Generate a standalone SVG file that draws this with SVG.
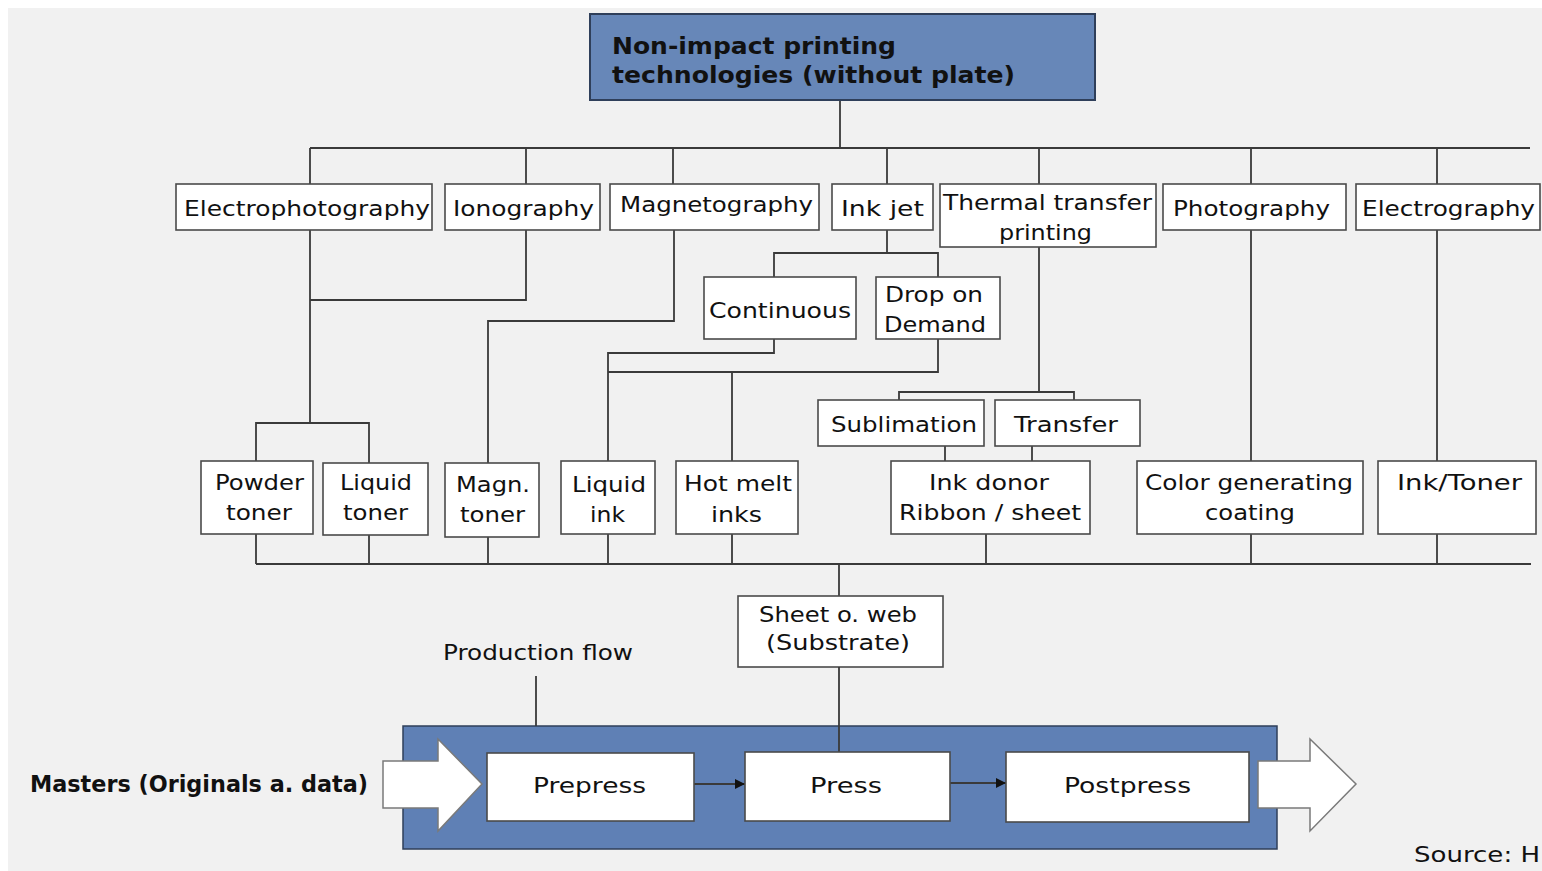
<svg xmlns="http://www.w3.org/2000/svg" width="1542" height="871" viewBox="0 0 1542 871">
<defs>
<style>
.bx{fill:#ffffff;stroke:#4a4a4a;stroke-width:1.6}
.t{font-family:"DejaVu Sans",sans-serif;font-size:21px;fill:#111}
.tb{font-family:"DejaVu Sans",sans-serif;font-size:23px;font-weight:bold;fill:#111}
.ln{fill:none;stroke:#3a3a3a;stroke-width:1.8}
.big{fill:#ffffff;stroke:#7a7a7a;stroke-width:1.5}
</style>
<marker id="ah" viewBox="0 0 10 10" refX="10" refY="5" markerWidth="10" markerHeight="10" markerUnits="userSpaceOnUse" orient="auto">
<path d="M0,0 L10,5 L0,10 Z" fill="#111"/>
</marker>
</defs>
<rect x="0" y="0" width="1542" height="871" fill="#ffffff"/>
<rect x="8" y="8" width="1534" height="863" fill="#f1f1f1"/>

<g id="connectors">
<path class="ln" d="M840,100 V148 M310,148 H1530 M310,148 V184 M526,148 V184 M673,148 V184 M887,148 V184 M1039,148 V184 M1251,148 V184 M1437,148 V184"/>
<path class="ln" d="M310,230 V423 M526,230 V300 H310 M256,461 V423 H369 V463"/>
<path class="ln" d="M674,230 V321 H488 V463"/>
<path class="ln" d="M887,230 V253 M774,277 V253 H938 V277"/>
<path class="ln" d="M774,339 V353 H608 V461 M938,339 V372 H608 M732,372 V461"/>
<path class="ln" d="M1039,247 V392 M899,400 V392 H1074 V400 M945,446 V461 M1032,446 V461"/>
<path class="ln" d="M1251,230 V461 M1437,230 V461"/>
<path class="ln" d="M256,564 H1531 M256,534 V564 M369,535 V564 M488,537 V564 M608,534 V564 M732,534 V564 M986,534 V564 M1251,534 V564 M1437,534 V564"/>
<path class="ln" d="M839,564 V596"/>
</g>

<g id="top">
<rect x="590" y="14" width="505" height="86" fill="#6787b8" stroke="#2f3f5a" stroke-width="2"/>
<text class="tb" x="612" y="54" textLength="284" lengthAdjust="spacingAndGlyphs">Non-impact printing</text>
<text class="tb" x="612" y="83" textLength="403" lengthAdjust="spacingAndGlyphs">technologies (without plate)</text>
</g>

<g id="electrophotography"><rect class="bx" x="176" y="184" width="256" height="46"/><text class="t" x="184" y="216" textLength="246" lengthAdjust="spacingAndGlyphs">Electrophotography</text></g>
<g id="ionography"><rect class="bx" x="445" y="184" width="155" height="46"/><text class="t" x="453" y="216" textLength="141" lengthAdjust="spacingAndGlyphs">Ionography</text></g>
<g id="magnetography"><rect class="bx" x="610" y="184" width="209" height="46"/><text class="t" x="620" y="212" textLength="193" lengthAdjust="spacingAndGlyphs">Magnetography</text></g>
<g id="inkjet"><rect class="bx" x="832" y="184" width="101" height="46"/><text class="t" x="841" y="216" textLength="83" lengthAdjust="spacingAndGlyphs">Ink jet</text></g>
<g id="thermal"><rect class="bx" x="940" y="184" width="216" height="63"/><text class="t" x="943" y="210" textLength="209" lengthAdjust="spacingAndGlyphs">Thermal transfer</text><text class="t" x="999" y="240" textLength="93" lengthAdjust="spacingAndGlyphs">printing</text></g>
<g id="photography"><rect class="bx" x="1163" y="184" width="183" height="46"/><text class="t" x="1173" y="216" textLength="157" lengthAdjust="spacingAndGlyphs">Photography</text></g>
<g id="electrography"><rect class="bx" x="1356" y="184" width="184" height="46"/><text class="t" x="1362" y="216" textLength="173" lengthAdjust="spacingAndGlyphs">Electrography</text></g>

<g id="continuous"><rect class="bx" x="704" y="277" width="152" height="62"/><text class="t" x="709" y="318" textLength="142" lengthAdjust="spacingAndGlyphs">Continuous</text></g>
<g id="dod"><rect class="bx" x="876" y="277" width="124" height="62"/><text class="t" x="885" y="302" textLength="98" lengthAdjust="spacingAndGlyphs">Drop on</text><text class="t" x="884" y="332" textLength="102" lengthAdjust="spacingAndGlyphs">Demand</text></g>
<g id="sublimation"><rect class="bx" x="818" y="400" width="166" height="46"/><text class="t" x="831" y="432" textLength="146" lengthAdjust="spacingAndGlyphs">Sublimation</text></g>
<g id="transfer"><rect class="bx" x="995" y="400" width="145" height="46"/><text class="t" x="1014" y="432" textLength="104" lengthAdjust="spacingAndGlyphs">Transfer</text></g>

<g id="powder"><rect class="bx" x="201" y="461" width="112" height="73"/><text class="t" x="215" y="490" textLength="89" lengthAdjust="spacingAndGlyphs">Powder</text><text class="t" x="226" y="520" textLength="66" lengthAdjust="spacingAndGlyphs">toner</text></g>
<g id="liquidtoner"><rect class="bx" x="323" y="463" width="105" height="72"/><text class="t" x="340" y="490" textLength="72" lengthAdjust="spacingAndGlyphs">Liquid</text><text class="t" x="343" y="520" textLength="65" lengthAdjust="spacingAndGlyphs">toner</text></g>
<g id="magntoner"><rect class="bx" x="445" y="463" width="94" height="74"/><text class="t" x="456" y="492" textLength="74" lengthAdjust="spacingAndGlyphs">Magn.</text><text class="t" x="460" y="522" textLength="65" lengthAdjust="spacingAndGlyphs">toner</text></g>
<g id="liquidink"><rect class="bx" x="561" y="461" width="94" height="73"/><text class="t" x="572" y="492" textLength="74" lengthAdjust="spacingAndGlyphs">Liquid</text><text class="t" x="590" y="522" textLength="35" lengthAdjust="spacingAndGlyphs">ink</text></g>
<g id="hotmelt"><rect class="bx" x="676" y="461" width="122" height="73"/><text class="t" x="684" y="491" textLength="108" lengthAdjust="spacingAndGlyphs">Hot melt</text><text class="t" x="711" y="522" textLength="51" lengthAdjust="spacingAndGlyphs">inks</text></g>
<g id="inkdonor"><rect class="bx" x="891" y="461" width="199" height="73"/><text class="t" x="929" y="490" textLength="120" lengthAdjust="spacingAndGlyphs">Ink donor</text><text class="t" x="899" y="520" textLength="182" lengthAdjust="spacingAndGlyphs">Ribbon / sheet</text></g>
<g id="colorgen"><rect class="bx" x="1137" y="461" width="226" height="73"/><text class="t" x="1145" y="490" textLength="208" lengthAdjust="spacingAndGlyphs">Color generating</text><text class="t" x="1205" y="520" textLength="90" lengthAdjust="spacingAndGlyphs">coating</text></g>
<g id="inktoner"><rect class="bx" x="1378" y="461" width="158" height="73"/><text class="t" x="1397" y="490" textLength="125" lengthAdjust="spacingAndGlyphs">Ink/Toner</text></g>

<g id="sheet"><rect class="bx" x="738" y="596" width="205" height="71"/><text class="t" x="759" y="622" textLength="158" lengthAdjust="spacingAndGlyphs">Sheet o. web</text><text class="t" x="766" y="650" textLength="144" lengthAdjust="spacingAndGlyphs">(Substrate)</text></g>

<g id="productionflow"><text class="t" x="443" y="660" textLength="190" lengthAdjust="spacingAndGlyphs">Production flow</text></g>

<g id="flow">
<rect x="403" y="726" width="874" height="123" fill="#5f80b5" stroke="#2f3f5a" stroke-width="1.5"/>
</g>
<g id="connectors-bottom">
<path class="ln" d="M839,667 V752 M536,676 V726"/>
<path class="ln" d="M694,784 H745" marker-end="url(#ah)"/>
<path class="ln" d="M950,783 H1006" marker-end="url(#ah)"/>
</g>
<g id="masters-arrow"><polygon class="big" points="383,761 438,761 438,739 482,784 438,831 438,808 383,808"/></g>
<g id="out-arrow"><polygon class="big" points="1258,761 1310,761 1310,739 1356,784 1310,831 1310,808 1258,808"/></g>
<g id="prepress"><rect class="bx" x="487" y="753" width="207" height="68"/><text class="t" x="533" y="793" textLength="113" lengthAdjust="spacingAndGlyphs">Prepress</text></g>
<g id="press"><rect class="bx" x="745" y="752" width="205" height="69"/><text class="t" x="810" y="793" textLength="72" lengthAdjust="spacingAndGlyphs">Press</text></g>
<g id="postpress"><rect class="bx" x="1006" y="752" width="243" height="70"/><text class="t" x="1064" y="793" textLength="127" lengthAdjust="spacingAndGlyphs">Postpress</text></g>

<g id="masters"><text class="tb" x="30" y="792" font-size="22" textLength="338" lengthAdjust="spacingAndGlyphs">Masters (Originals a. data)</text></g>
<g id="source"><text class="t" x="1414" y="862" textLength="126" lengthAdjust="spacingAndGlyphs">Source: H</text></g>
</svg>
